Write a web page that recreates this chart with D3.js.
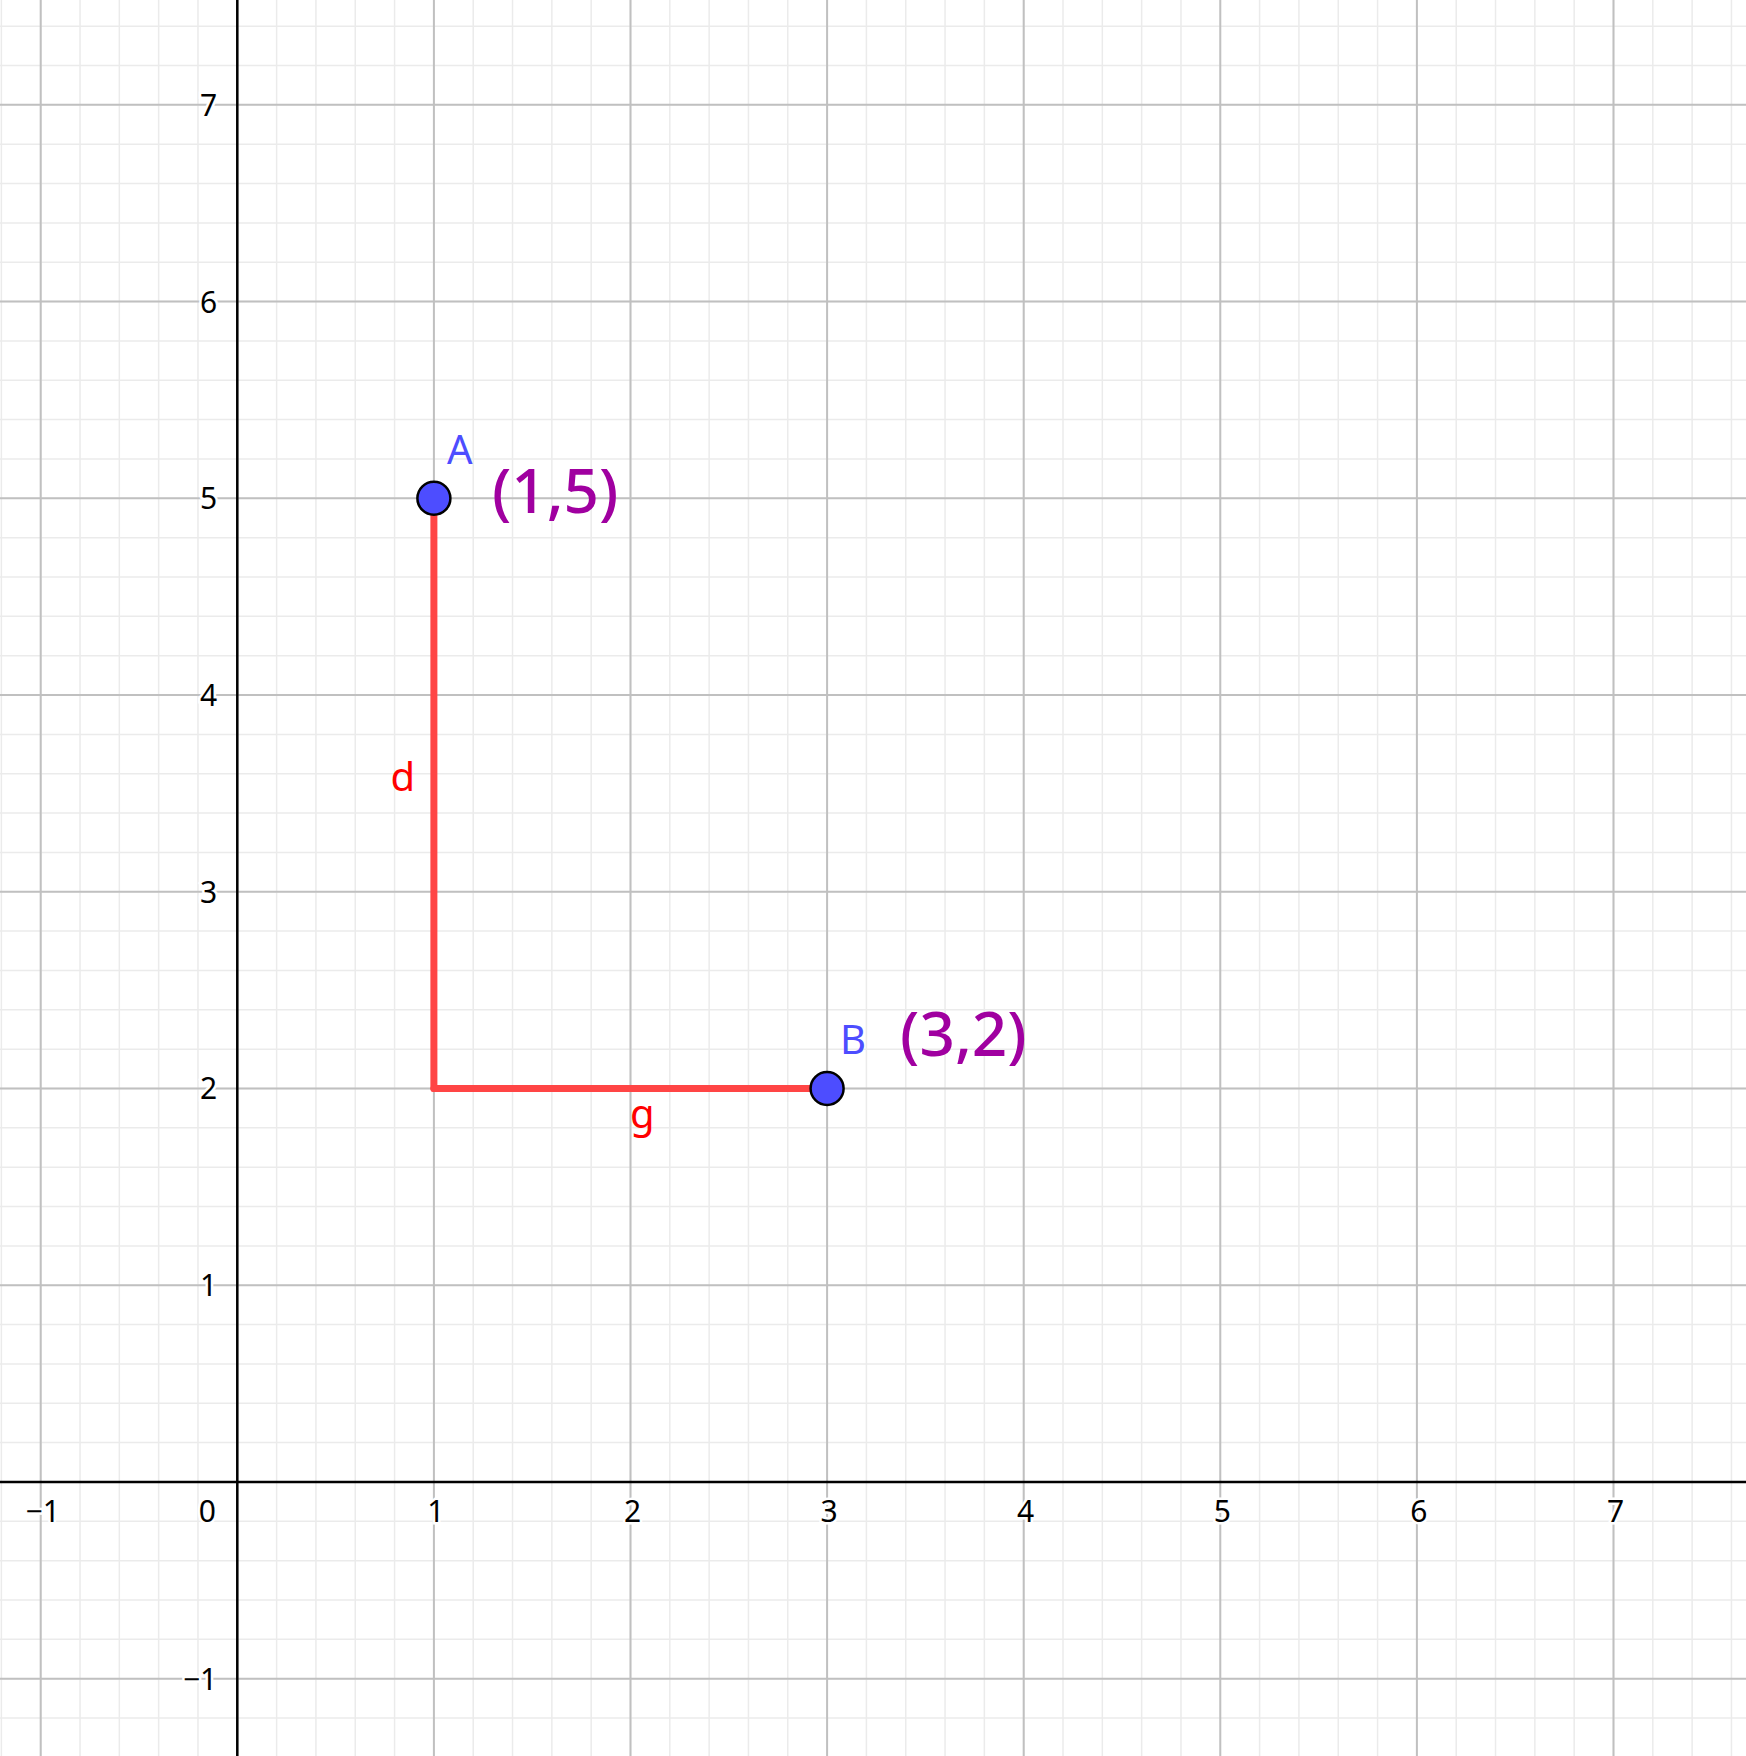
<!DOCTYPE html>
<html><head><meta charset="utf-8">
<script src="https://cdn.jsdelivr.net/npm/d3@7"></script>
<style>body{margin:0;background:#fff}svg{display:block}text{font-family:"Noto Sans","Open Sans",sans-serif}</style>
</head><body><svg></svg>
<script>
// datos
var xTicks = [-1, 0, 1, 2, 3, 4, 5, 6, 7];
var yTicks = [-1, 1, 2, 3, 4, 5, 6, 7];
var points = [{name: "A", x: 1, y: 5, coord: "(1,5)"}, {name: "B", x: 3, y: 2, coord: "(3,2)"}];
var segments = [{name: "d", from: [1, 5], to: [1, 2]}, {name: "g", from: [1, 2], to: [3, 2]}];

var W = 1746, H = 1756;
var svg = d3.select("svg").attr("width", W).attr("height", H);

var x = d3.scaleLinear().domain([-1.207, 7.674]).range([0, W]);
var y = d3.scaleLinear().domain([7.533, -1.393]).range([0, H]);

// rejilla menor y mayor
var minorX = d3.range(-6, 39).map(function(i) { return i / 5; });
var minorY = d3.range(-7, 38).map(function(i) { return i / 5; });
svg.append("g").selectAll("line").data(minorX).join("line")
    .attr("x1", d => x(d)).attr("x2", d => x(d)).attr("y1", 0).attr("y2", H)
    .attr("stroke", "#ebebeb").attr("stroke-width", 1.5);
svg.append("g").selectAll("line").data(minorY).join("line")
    .attr("y1", d => y(d)).attr("y2", d => y(d)).attr("x1", 0).attr("x2", W)
    .attr("stroke", "#ebebeb").attr("stroke-width", 1.5);
svg.append("g").selectAll("line").data(d3.range(-1, 8)).join("line")
    .attr("x1", d => x(d)).attr("x2", d => x(d)).attr("y1", 0).attr("y2", H)
    .attr("stroke", "#c0c0c0").attr("stroke-width", 2);
svg.append("g").selectAll("line").data(d3.range(-1, 8)).join("line")
    .attr("y1", d => y(d)).attr("y2", d => y(d)).attr("x1", 0).attr("x2", W)
    .attr("stroke", "#c0c0c0").attr("stroke-width", 2);

// ejes
svg.append("line").attr("x1", 0).attr("x2", W).attr("y1", y(0)).attr("y2", y(0))
    .attr("stroke", "#000").attr("stroke-width", 2.5);
svg.append("line").attr("x1", x(0)).attr("x2", x(0)).attr("y1", 0).attr("y2", H)
    .attr("stroke", "#000").attr("stroke-width", 2.5);

function fmt(d) { return d < 0 ? "\u2212" + (-d) : "" + d; }
svg.append("g").selectAll("text").data(xTicks).join("text")
    .attr("x", d => d === 0 ? x(0) - 30 : x(d) + 2).attr("y", y(0) + 40)
    .attr("text-anchor", "middle").attr("font-size", 30)
    .attr("stroke", "#fff").attr("stroke-width", 5).attr("paint-order", "stroke")
    .text(fmt);
svg.append("g").selectAll("text").data(yTicks).join("text")
    .attr("x", x(0) - 20).attr("y", d => y(d) + 11)
    .attr("text-anchor", "end").attr("font-size", 30)
    .attr("stroke", "#fff").attr("stroke-width", 5).attr("paint-order", "stroke")
    .text(fmt);

// segmentos
svg.append("g").selectAll("line").data(segments).join("line")
    .attr("x1", d => x(d.from[0])).attr("y1", d => y(d.from[1]))
    .attr("x2", d => x(d.to[0])).attr("y2", d => y(d.to[1]))
    .attr("stroke", "#ff4545").attr("stroke-width", 7).attr("stroke-linecap", "round");
svg.append("text").datum(segments[0])
    .attr("x", x(1) - 31).attr("y", y(3.5) - 2)
    .attr("fill", "#ff0000").attr("font-size", 40).attr("text-anchor", "middle")
    .text(d => d.name);
svg.append("text").datum(segments[1])
    .attr("x", x(2.06)).attr("y", y(2) + 40)
    .attr("fill", "#ff0000").attr("font-size", 40).attr("text-anchor", "middle")
    .text(d => d.name);

// puntos
svg.append("g").selectAll("circle").data(points).join("circle")
    .attr("cx", d => x(d.x)).attr("cy", d => y(d.y)).attr("r", 16.5)
    .attr("fill", "#4d4dff").attr("stroke", "#000").attr("stroke-width", 2.5);
svg.append("g").selectAll("text").data(points).join("text")
    .attr("x", d => x(d.x) + 13).attr("y", d => y(d.y) - 34)
    .attr("fill", "#4d4dff").attr("font-size", 40)
    .text(d => d.name);
var coordOff = {A: [58, 15], B: [73, -32]};
svg.append("g").selectAll("text").data(points).join("text")
    .attr("x", d => x(d.x) + coordOff[d.name][0]).attr("y", d => y(d.y) + coordOff[d.name][1])
    .attr("fill", "#a000a0").attr("font-size", 62).attr("font-weight", 500)
    .text(d => d.coord);
</script></body></html>
